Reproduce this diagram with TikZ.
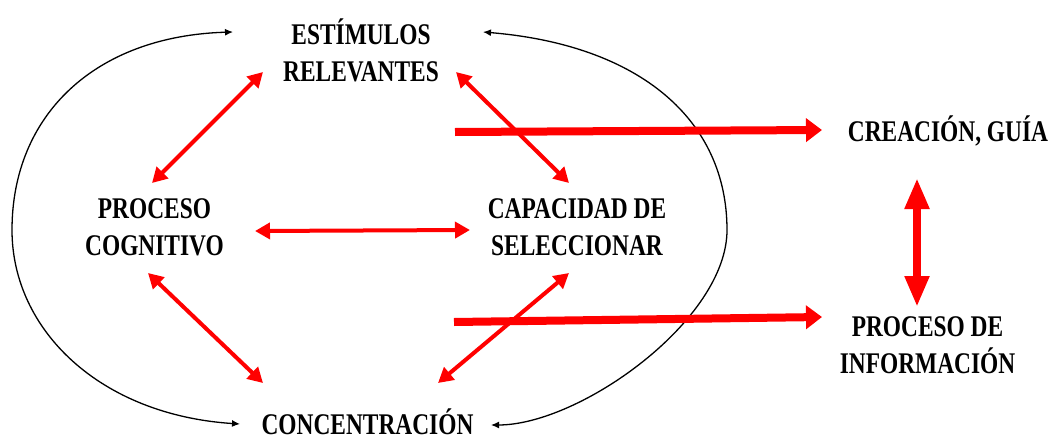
\documentclass[tikz,border=0pt]{standalone}
\usepackage{fontspec}
\setmainfont{Liberation Serif}[FakeStretch=0.78]
\usetikzlibrary{arrows.meta,calc}
\tikzset{
  lbl/.style={inner sep=0pt, anchor=base, align=center,
    font=\fontsize{30}{37}\selectfont\bfseries},
  thinarr/.style={draw=red, line width=4pt,
    {Triangle[length=15pt,width=16pt]}-{Triangle[length=15pt,width=16pt]}},
  thickarr/.style={draw=red, line width=8pt,
    -{Triangle[length=16pt,width=23pt]}},
  vertarr/.style={draw=red, line width=8pt,
    {Triangle[length=31pt,width=23pt]}-{Triangle[length=31pt,width=23pt]}},
  arc/.style={draw=black, line width=1.3pt,
    {Latex[length=8pt,width=7pt]}-{Latex[length=8pt,width=7pt]}}
}
\begin{document}
\begin{tikzpicture}[x=1pt,y=-1pt]
\useasboundingbox[fill=white] (0,0) rectangle (1054,439);
% base anchor = baseline of the last line
\node[lbl] (est) at (361,81) {ESTÍMULOS\\RELEVANTES};
\node[lbl] (pc) at (154.5,255) {PROCESO\\COGNITIVO};
\node[lbl] (cap) at (577,255) {CAPACIDAD DE\\SELECCIONAR};
\node[lbl] (con) at (367.5,434) {CONCENTRACIÓN};
\node[lbl] (cre) at (948,141) {CREACIÓN, GUÍA};
\node[lbl] (pdi) at (927.5,373) {PROCESO DE\\INFORMACIÓN};
% black arcs
\draw[arc] ($(est.base)+(-128,-49)$) .. controls (95,36) and (12,115) .. (12,230)
  .. controls (12,330) and (100,415) .. ($(con.base)+(-127.5,-10)$);
\draw[arc] ($(est.base)+(122,-49)$) .. controls (640,45) and (727,120) .. (727,230)
  .. controls (727,320) and (580,425) .. ($(con.base)+(123.5,-9)$);
% thin red arrows
\draw[thinarr] ($(est.base)+(-98,-9)$) -- ($(pc.base)+(-2.5,-72)$);
\draw[thinarr] ($(est.base)+(95,-9)$) -- ($(cap.base)+(-8,-72)$);
\draw[thinarr] ($(pc.base)+(100.5,-24)$) -- ($(cap.base)+(-107,-25)$);
\draw[thinarr] ($(pc.base)+(-6.5,18)$) -- ($(con.base)+(-104.5,-51)$);
\draw[thinarr] ($(cap.base)+(-8,18)$) -- ($(con.base)+(70.5,-51)$);
% thick red arrows
\draw[thickarr] ($(est.base)+(94,51)$) -- ($(cre.base)+(-126,-11)$);
\draw[thickarr] ($(cap.base)+(-123,67)$) -- ($(pdi.base)+(-105.5,-56)$);
\draw[vertarr] ($(cre.base)+(-31,37)$) -- ($(pdi.base)+(-10.5,-66)$);
\end{tikzpicture}
\end{document}
